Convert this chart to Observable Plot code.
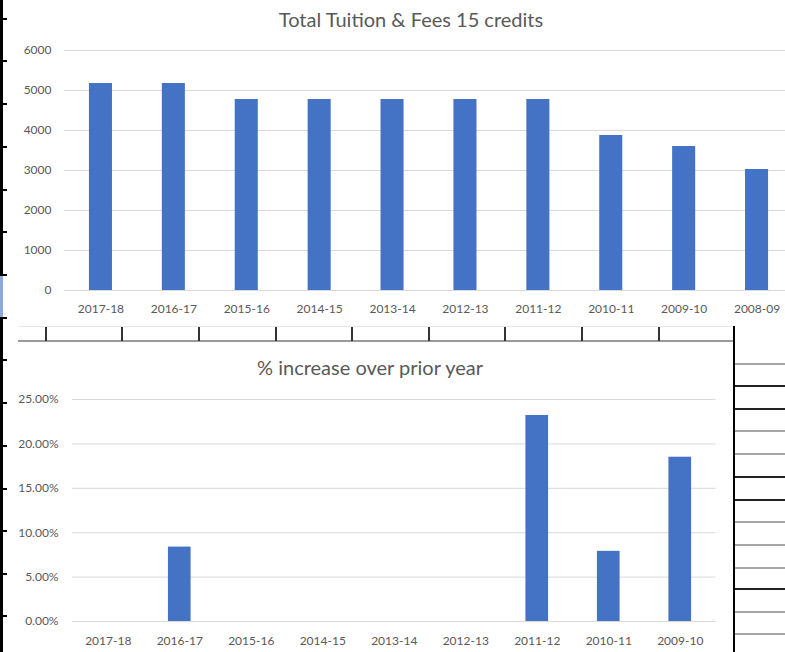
<!DOCTYPE html>
<html><head><meta charset="utf-8">
<script src="https://cdn.jsdelivr.net/npm/d3@7"></script>
<script src="https://cdn.jsdelivr.net/npm/@observablehq/plot@0.6"></script>
<style>
body{margin:0;width:785px;height:652px;overflow:hidden;position:relative;background:#fff;font-family:Lato,sans-serif}
.abs{position:absolute}
.title{position:absolute;transform:translateX(-50%);white-space:nowrap;color:#595959;font-size:20px;line-height:20px;font-family:Lato,sans-serif}
svg{max-width:none !important}
</style></head><body>
<div id="topChart" class="abs" style="left:0;top:0;width:785px;height:326px;overflow:hidden"></div>
<div id="bottomChart" class="abs" style="left:0;top:341px;width:734px;height:311px;overflow:hidden"></div>
<div class="title" style="left:411px;top:9px">Total Tuition &amp; Fees 15 credits</div>
<div class="title" style="left:370px;top:357px">% increase over prior year</div>
<div id="deco"></div>
<script>
// ---- data ----
const years = ["2017-18","2016-17","2015-16","2014-15","2013-14","2012-13","2011-12","2010-11","2009-10","2008-09"];
const tuition = [5175,5175,4775,4775,4775,4775,4775,3875,3600,3025];
const incYears = ["2017-18","2016-17","2015-16","2014-15","2013-14","2012-13","2011-12","2010-11","2009-10"];
const increase = [0,8.38,0,0,0,0,23.2,7.9,18.5];
const tuitionTicks = [0,1000,2000,3000,4000,5000,6000];
const increaseTicks = [0,5,10,15,20,25];

const BLUE = "#4472C4", GRID = "#d9d9d9", TXT = "#595959";
const plotStyle = {fontFamily:"Lato, sans-serif", fontSize:"12px", color:TXT, background:"transparent", overflow:"visible", maxWidth:"none"};

const tData = years.map((y,i)=>({year:y, value:tuition[i]}));
const iData = incYears.map((y,i)=>({year:y, value:increase[i]}));

const chartTop = Plot.plot({
  width: 800, height: 326,
  marginLeft: 64, marginRight: 7, marginTop: 50, marginBottom: 36,
  style: plotStyle,
  x: {domain: years, paddingInner: 0.684, paddingOuter: 0.342, round: false, label: null},
  y: {domain: [0,6000], label: null},
  marks: [
    Plot.gridY(tuitionTicks, {stroke: GRID, strokeOpacity: 1}),
    Plot.barY(tData, {x:"year", y:"value", fill: BLUE}),
    Plot.axisY(tuitionTicks, {tickSize:0, tickPadding:13, fill:TXT, fontSize:12, label:null, tickFormat: d => String(d)}),
    Plot.axisX({tickSize:0, tickPadding:14, fill:TXT, fontSize:12, label:null})
  ]
});
document.getElementById("topChart").appendChild(chartTop);

const chartBottom = Plot.plot({
  width: 734, height: 311,
  marginLeft: 72, marginRight: 18.5, marginTop: 58, marginBottom: 31,
  style: plotStyle,
  x: {domain: incYears, paddingInner: 0.683, paddingOuter: 0.3415, round: false, label: null},
  y: {domain: [0,25], label: null},
  marks: [
    Plot.gridY(increaseTicks, {stroke: GRID, strokeOpacity: 1}),
    Plot.barY(iData, {x:"year", y:"value", fill: BLUE}),
    Plot.axisY(increaseTicks, {tickSize:0, tickPadding:14, fill:TXT, fontSize:12, label:null, tickFormat: d => d.toFixed(2) + "%"}),
    Plot.axisX({tickSize:0, tickPadding:15, fill:TXT, fontSize:12, label:null})
  ]
});
document.getElementById("bottomChart").appendChild(chartBottom);

// ---- spreadsheet decoration ----
const deco = document.getElementById("deco");
function box(l,t,w,h,c){const d=document.createElement("div");d.className="abs";d.style.cssText=`left:${l}px;top:${t}px;width:${w}px;height:${h}px;background:${c}`;deco.appendChild(d);}
box(0,0,3,652,"#000");
box(0,274,3,43,"#8ea9db");
[18,60,103,146,189,231,274,317,359,402,445,488,530,573,615].forEach(y=>box(0,y,7,2,"#000"));
box(18,326,716,1,"#e6e6e6");
box(18,340,716,2,"#9a9a9a");
[45,121,198,275,351,428,504,581,658].forEach(x=>box(x,327,2,14,"#333"));
box(733,326,2,326,"#000");
[[363,"#a6a6a6"],[385,"#222"],[408,"#222"],[430,"#a6a6a6"],[453,"#a6a6a6"],[476,"#222"],[499,"#222"],[521,"#a6a6a6"],[544,"#a6a6a6"],[567,"#a6a6a6"],[588,"#222"],[611,"#a6a6a6"],[633,"#a6a6a6"]]
  .forEach(([y,c])=>box(735,y,50,2,c));
</script>
</body></html>
